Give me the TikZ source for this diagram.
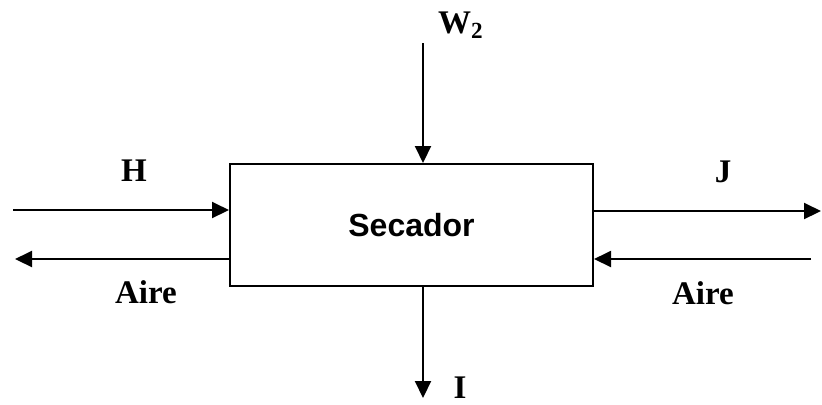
\documentclass[tikz,border=0pt]{standalone}
\usepackage{fontspec}
\setmainfont{Liberation Serif}
\newfontfamily\boxfont{Liberation Sans}
\usetikzlibrary{arrows.meta}

\tikzstyle{unit} = [draw, line width=1pt, minimum width=181.5pt, minimum height=61pt, inner sep=0pt, font=\boxfont\bfseries\fontsize{16}{18}\selectfont]
\tikzstyle{flow} = [line width=1pt, -{Triangle[length=8.5pt,width=8pt]}]
\tikzstyle{lbl} = [inner sep=0pt, font=\bfseries\fontsize{16.5}{18}\selectfont]

\begin{document}
\begin{tikzpicture}[x=0.5pt, y=-0.5pt]
\useasboundingbox (0,0) rectangle (822,404);
\node[unit] (secador) at (411.5,225) {Secador};
% corrientes libres
\coordinate (win) at (423,43);
\coordinate (iout) at (423,398);
\coordinate (hin) at (13,210);
\coordinate (aout) at (15,259);
\coordinate (jout) at (821,211);
\coordinate (ain) at (811,259);
% flechas
\draw[flow] (win) -- (win |- secador.north);
\draw[flow] (iout |- secador.south) -- (iout);
\draw[flow] (hin) -- (hin -| secador.west);
\draw[flow] (aout -| secador.west) -- (aout);
\draw[flow] (jout -| secador.east) -- (jout);
\draw[flow] (ain) -- (ain -| secador.east);
% etiquetas
\node[lbl] (w2) at (461,25) {W\textsubscript{2}};
\node[lbl] (h) at (134,171) {H};
\node[lbl] (aireizq) at (146,292) {Aire};
\node[lbl] (j) at (723,172) {J};
\node[lbl] (aireder) at (703,293) {Aire};
\node[lbl] (i) at (460,388) {I};
\end{tikzpicture}
\end{document}
